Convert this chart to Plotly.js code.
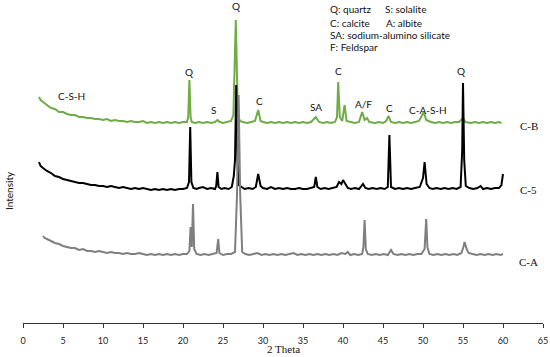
<!DOCTYPE html>
<html>
<head>
<meta charset="utf-8">
<script src="https://cdn.plot.ly/plotly-3.0.1.min.js"></script>
<style>html,body{margin:0;padding:0;background:#fff;}#chart{width:550px;height:357px;}</style>
</head>
<body>
<div id="chart"></div>
<script>
// 2 Theta / intensity (arbitrary units above each pattern's baseline)
const cbTheta = [2.0,2.2,2.5,3.0,3.5,4.0,4.5,5.0,5.5,6.0,6.5,7.0,7.5,8.0,8.5,9.0,9.5,10.0,10.5,11.0,11.5,12.0,12.5,13.0,13.5,14.0,14.5,15.0,15.5,16.0,16.5,17.0,17.5,18.0,18.5,19.0,19.5,20.0,20.5,20.65,20.8,20.95,21.1,21.5,22.0,22.5,23.0,23.5,24.0,24.3,24.6,25.0,25.5,26.0,26.3,26.6,26.85,27.1,27.5,28.0,28.5,29.0,29.4,29.7,30.0,30.5,31.0,31.5,32.0,32.5,33.0,33.5,34.0,34.5,35.0,35.5,36.0,36.6,37.0,37.5,38.0,38.5,39.0,39.25,39.4,39.6,39.9,40.2,40.45,41.0,41.5,42.0,42.4,42.7,43.0,43.3,44.0,44.5,45.0,45.4,45.7,46.0,46.5,47.0,47.5,48.0,48.5,49.0,49.5,50.1,50.4,51.0,51.5,52.0,52.5,53.0,53.5,54.0,54.5,55.0,55.3,56.0,56.5,57.0,57.5,58.0,58.5,59.0,59.5,59.8];
const cbInt = [26,23,21,18,15,14,11,11,9,8,8,6,6,5,5,4,4,3,4,2,3,2,2,1,2,1,1,2,0,1,0,1,0,1,0,1,0,1,1,6,43,6,1,0,1,0,1,0,1,3,1,0,1,2,8,103,10,2,1,0,1,2,13,2,1,0,1,0,1,0,1,0,1,0,1,0,1,6,1,0,1,0,1,6,41,6,2,18,2,1,0,1,11,3,5,1,0,1,0,2,7,1,0,1,0,1,0,1,2,11,3,1,0,1,0,1,0,1,1,5,1,0,1,0,1,0,1,0,1,0];

const c5Theta = [2.0,2.2,2.5,3.0,3.5,4.0,4.5,5.0,5.5,6.0,6.5,7.0,7.5,8.0,8.5,9.0,9.5,10.0,10.5,11.0,11.5,12.0,12.5,13.0,13.5,14.0,14.5,15.0,15.5,16.0,16.5,17.0,17.5,18.0,18.5,19.0,19.5,20.0,20.5,20.75,20.9,21.05,21.3,21.7,22.0,22.5,23.0,23.5,24.0,24.15,24.3,24.45,24.8,25.2,25.7,26.1,26.35,26.5,26.65,26.8,26.95,27.3,27.7,28.2,28.7,29.1,29.4,29.7,30.0,30.5,31.0,31.5,32.0,32.5,33.0,33.5,34.0,34.5,35.0,35.5,36.0,36.4,36.6,36.8,37.2,37.7,38.2,38.7,39.2,39.5,39.8,40.0,40.3,40.6,41.0,41.5,42.0,42.5,42.8,43.2,43.7,44.2,44.7,45.2,45.6,45.8,46.0,46.5,47.0,47.5,48.0,48.5,49.0,49.6,50.0,50.2,50.45,50.8,51.2,51.7,52.2,52.7,53.2,53.7,54.2,54.7,54.9,55.0,55.15,55.35,55.8,56.3,56.8,57.2,57.5,58.0,58.5,59.0,59.5,59.8,60.0];
const c5Int = [28,24,22,19,17,14,13,11,10,9,8,7,7,6,5,5,4,4,3,4,3,2,3,2,1,2,1,2,1,0,1,0,1,0,1,0,1,1,2,8,63,8,2,1,2,3,1,2,1,4,18,3,1,2,1,3,14,30,105,30,5,3,1,2,1,3,16,4,2,1,3,1,2,1,2,1,1,2,1,1,2,3,13,3,1,2,1,2,3,8,6,10,6,2,1,2,1,6,2,1,2,1,2,1,3,55,3,1,2,1,2,1,2,3,12,28,6,2,1,2,1,2,1,2,1,3,40,107,30,4,2,1,2,4,1,2,1,2,2,5,16];

const caTheta = [2.5,2.7,3.0,3.5,4.0,4.5,5.0,5.5,6.0,6.5,7.0,7.5,8.0,8.5,9.0,9.5,10.0,10.5,11.0,11.5,12.0,12.5,13.0,13.5,14.0,14.5,15.0,15.5,16.0,16.5,17.0,17.5,18.0,18.5,19.0,19.5,20.0,20.5,20.8,20.95,21.1,21.25,21.4,21.7,22.2,22.7,23.2,23.7,24.2,24.4,24.55,25.0,25.5,26.0,26.5,26.75,26.95,27.15,27.4,27.8,28.3,28.8,29.3,29.8,30.3,30.8,31.3,31.8,32.3,32.8,33.3,33.8,34.3,34.8,35.3,35.8,36.3,36.8,37.3,37.8,38.3,38.8,39.3,39.8,40.3,40.6,40.9,41.4,41.9,42.4,42.55,42.7,42.85,43.1,43.6,44.1,44.6,45.1,45.6,46.0,46.3,46.8,47.3,47.8,48.3,48.8,49.3,49.8,50.2,50.4,50.55,50.8,51.3,51.8,52.3,52.8,53.3,53.8,54.3,54.8,55.05,55.2,55.45,55.7,56.2,56.7,57.2,57.7,58.2,58.7,59.2,59.7,60.0];
const caInt = [19,17,16,14,12,11,9,8,7,7,5,6,4,4,3,4,3,2,3,2,2,1,2,1,1,2,1,0,1,0,1,0,1,0,1,0,1,1,4,28,8,51,6,1,0,1,0,1,2,16,2,0,1,1,3,60,160,60,3,1,0,1,2,0,1,0,1,0,1,0,1,2,0,1,0,1,0,1,0,1,0,1,0,2,1,3,0,1,0,1,8,35,6,1,0,1,0,1,0,5,1,0,1,0,1,0,1,1,6,36,8,1,0,1,0,1,0,1,0,2,8,13,6,2,1,0,1,0,1,0,1,0,1];

const seriesNames = ['C-B','C-5','C-A'];
const xTicks = [0,5,10,15,20,25,30,35,40,45,50,55,60,65];

// vertical stacking offsets (layout)
const offsets = [200, 133, 68];
const colors = ['#6fac46', '#000000', '#7f7f7f'];
const data = [[cbTheta, cbInt],[c5Theta, c5Int],[caTheta, caInt]];

const traces = data.map((d, i) => ({
  x: d[0],
  y: d[1].map(v => v + offsets[i]),
  type: 'scatter', mode: 'lines',
  line: {color: colors[i], width: 2},
  name: seriesNames[i], hoverinfo: 'skip'
}));

const sans = 'Lato, "Open Sans", sans-serif';
const serif = '"Liberation Serif", "DejaVu Serif", serif';
const ann = [];
function lab(text, x, y, opts) {
  ann.push(Object.assign({text, x, y, xref:'x', yref:'y', showarrow:false,
    font:{family:sans, size:10, color:'#111'}, xanchor:'center', yanchor:'middle'}, opts||{}));
}
// peak labels
lab('Q', 20.75, 251);
lab('Q', 26.6, 317);
lab('S', 23.75, 213);
lab('C', 29.5, 222);
lab('SA', 36.6, 216);
lab('C', 39.4, 252);
lab('A/F', 42.6, 219);
lab('C', 45.75, 215);
lab('C-A-S-H', 50.6, 213);
lab('Q', 54.75, 252);
lab('C-S-H', 6.0, 227);
// key
lab('Q: quartz', 38.1, 314, {xanchor:'left'});
lab('S: solalite', 45.0, 314, {xanchor:'left'});
lab('C: calcite', 38.1, 300, {xanchor:'left'});
lab('A: albite', 45.1, 300, {xanchor:'left'});
lab('SA: sodium-alumino silicate', 38.1, 288, {xanchor:'left'});
lab('F: Feldspar', 38.1, 276, {xanchor:'left'});
// series names
const nameY = [197, 133, 61];
seriesNames.forEach((n, i) => lab(n, 63.2, nameY[i], {font:{family:serif, size:11, color:'#111'}}));
// axis titles
ann.push({text:'2 Theta', xref:'paper', yref:'paper', x:0.5, y:-0.08, yanchor:'middle', showarrow:false,
  font:{family:serif, size:11, color:'#111'}});
ann.push({text:'Intensity', xref:'paper', yref:'paper', x:-0.028, y:0.41, textangle:-90, showarrow:false,
  xanchor:'center', yanchor:'middle', font:{family:sans, size:10, color:'#111'}});

const layout = {
  width: 550, height: 357,
  margin: {l:23, r:7, t:0, b:34},
  paper_bgcolor:'#fff', plot_bgcolor:'#fff',
  showlegend:false,
  xaxis: {range:[0,65], tickvals:xTicks, ticktext:xTicks.map(String), ticks:'outside', ticklen:4, tickcolor:'#333',
    showline:true, linecolor:'#333', linewidth:1, showgrid:false, zeroline:false, ticklabelstandoff:5,
    tickfont:{family:sans, size:9, color:'#222'}},
  yaxis: {range:[0,323], showticklabels:false, showgrid:false, zeroline:false, showline:false, ticks:''},
  annotations: ann
};
Plotly.newPlot('chart', traces, layout, {staticPlot:true, displayModeBar:false});
</script>
</body>
</html>
